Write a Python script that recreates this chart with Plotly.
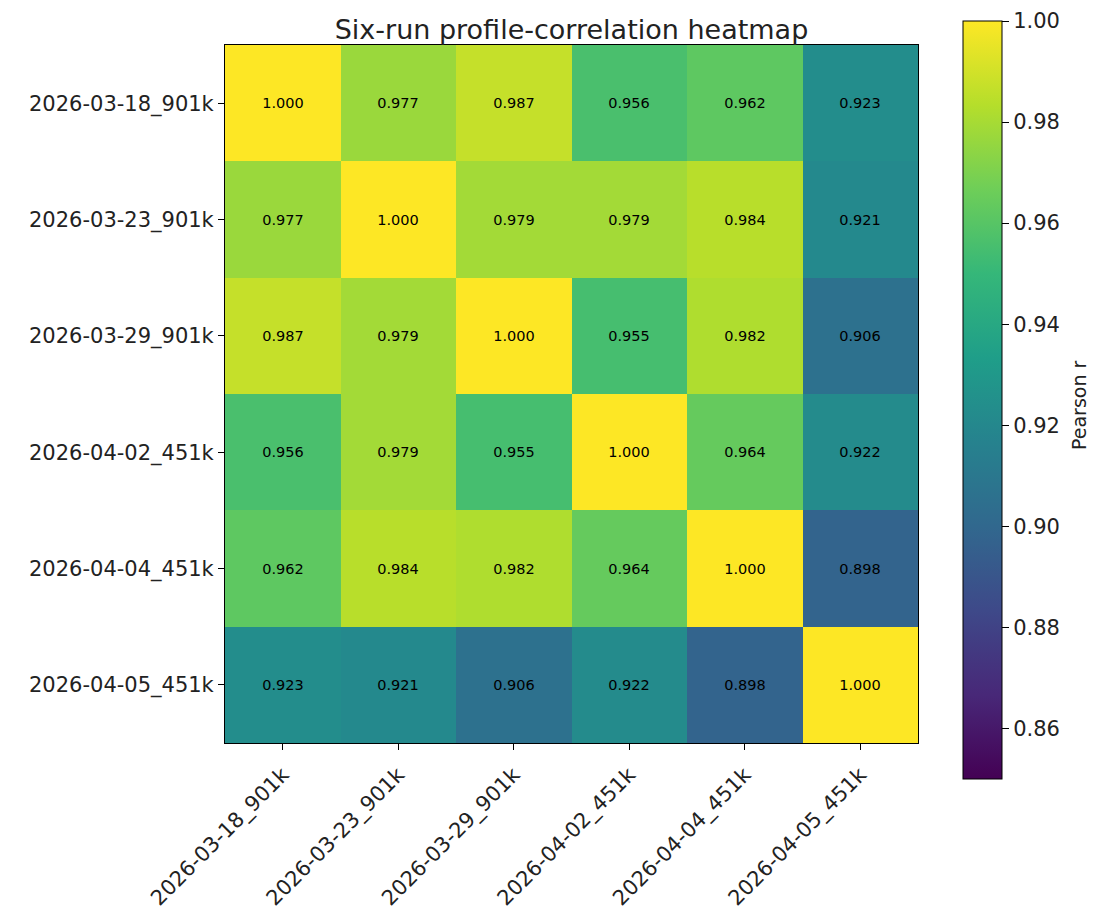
import plotly.graph_objects as go

runs = ["2026-03-18_901k", "2026-03-23_901k", "2026-03-29_901k",
        "2026-04-02_451k", "2026-04-04_451k", "2026-04-05_451k"]

corr = [
    [1.000, 0.977, 0.987, 0.956, 0.962, 0.923],
    [0.977, 1.000, 0.979, 0.979, 0.984, 0.921],
    [0.987, 0.979, 1.000, 0.955, 0.982, 0.906],
    [0.956, 0.979, 0.955, 1.000, 0.964, 0.922],
    [0.962, 0.984, 0.982, 0.964, 1.000, 0.898],
    [0.923, 0.921, 0.906, 0.922, 0.898, 1.000],
]

cbar_ticks = [0.86, 0.88, 0.90, 0.92, 0.94, 0.96, 0.98, 1.00]
cbar_min, cbar_max = 0.85, 1.00

OFF = 8  # page body margin
W, H = 1097 - OFF, 918 - OFF
L, R, T, B = 225 - OFF, 918 - OFF, 45 - OFF, 743 - OFF
PW, PH = R - L, B - T
CB_X0, CB_X1, CB_Y0, CB_Y1 = 963 - OFF, 1002 - OFF, 21 - OFF, 779 - OFF
FONT = "DejaVu Sans"

fig = go.Figure(go.Heatmap(
    z=corr, x=runs, y=runs,
    colorscale="Viridis", zmin=cbar_min, zmax=cbar_max + 1e-6,
    texttemplate="%{z:.3f}", textfont=dict(size=14.5, color="black", family=FONT),
    colorbar=dict(
        x=(CB_X0 - L) / PW, xanchor="left",
        y=(B - CB_Y1) / PH, yanchor="bottom",
        len=(CB_Y1 - CB_Y0) / PH, lenmode="fraction",
        thickness=CB_X1 - CB_X0, thicknessmode="pixels",
        outlinewidth=1, outlinecolor="black", xpad=0, ypad=0,
        ticks="outside", ticklen=7, tickcolor="black",
        tickvals=cbar_ticks, ticktext=[f"{v:.2f}" for v in cbar_ticks],
        ticklabeloverflow="allow",
        tickfont=dict(size=21, family=FONT, color="#222"),
    ),
))

fig.add_annotation(
    text="Pearson r", xref="paper", yref="paper",
    x=(1079 - OFF - L) / PW, y=(B - (405 - OFF)) / PH,
    textangle=-90, showarrow=False, xanchor="center", yanchor="middle",
    font=dict(size=19, family=FONT, color="#222"),
)

fig.update_layout(
    width=W, height=H,
    margin=dict(l=L, r=W - R, t=T, b=H - B, autoexpand=False),
    paper_bgcolor="white", plot_bgcolor="white",
    font=dict(family=FONT, color="#222"),
    title=dict(text="Six-run profile-correlation heatmap", x=(L + R) / 2 / W, xanchor="center",
               y=1 - (30 - OFF) / H, yanchor="middle", font=dict(size=27, family=FONT, color="#222")),
)
fig.update_xaxes(
    tickangle=-45, ticks="outside", ticklen=6, tickcolor="black",
    showline=True, linecolor="black", linewidth=1, mirror=True,
    tickfont=dict(size=21, family=FONT, color="#222"), ticklabelstandoff=4,
    showgrid=False, zeroline=False,
)
fig.update_yaxes(
    autorange="reversed", ticks="outside", ticklen=6, tickcolor="black",
    showline=True, linecolor="black", linewidth=1, mirror=True,
    tickfont=dict(size=21, family=FONT, color="#222"),
    showgrid=False, zeroline=False,
)

fig.write_html("out.html")
